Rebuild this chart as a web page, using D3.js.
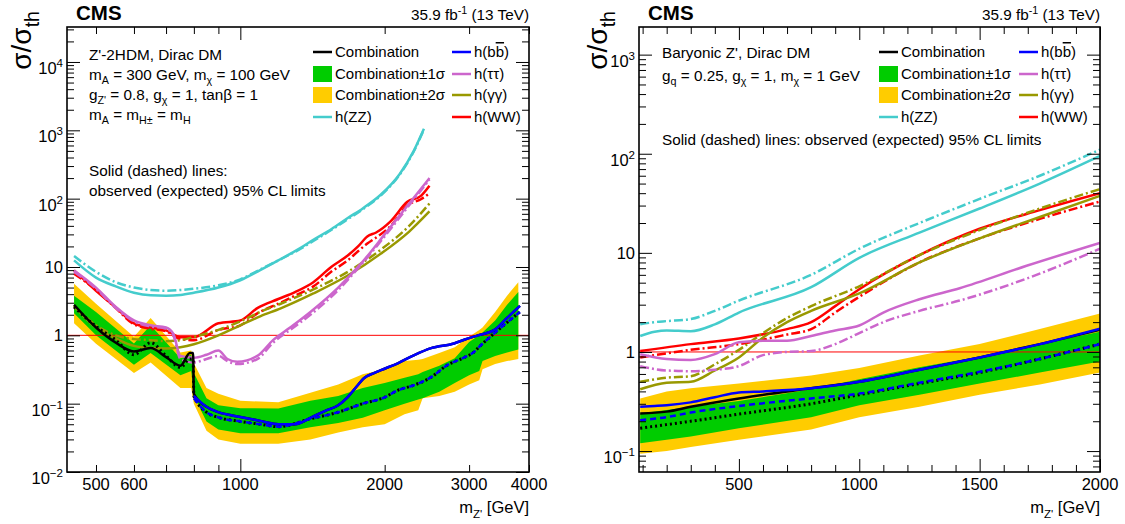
<!DOCTYPE html>
<html><head><meta charset="utf-8">
<script src="https://cdn.jsdelivr.net/npm/d3@7"></script>
<style>body{margin:0;background:#fff}text{font-family:"Liberation Sans",Arial,Helvetica,sans-serif;fill:#000}</style>
</head><body><svg id="c" width="1125" height="524"></svg>
<script>
// ---------------- LEFT PANEL DATA (Z'-2HDM) ----------------
const L_band_m = [450,500,600,650,750,790,800,850,900,1000,1200,1400,1600,1800,2000,2200,2350,2400,2600,2800,3000,3150,3200,3400,3600,3800];
const L_y2u = [5.7,2.9,0.95,1.8,0.56,0.6,0.39,0.17,0.14,0.11,0.105,0.145,0.19,0.27,0.32,0.42,0.44,0.45,0.55,0.67,0.95,1.2,1.3,2.2,3.8,6.0];
const L_g1u = [3.8,2.2,0.76,1.4,0.46,0.52,0.28,0.12,0.095,0.086,0.085,0.11,0.13,0.17,0.2,0.24,0.27,0.29,0.36,0.46,0.8,1.0,1.1,1.65,2.8,4.3];
const L_g1d = [2.1,1.0,0.37,0.55,0.26,0.3,0.13,0.055,0.042,0.037,0.037,0.045,0.052,0.062,0.08,0.1,0.115,0.12,0.15,0.2,0.26,0.3,0.42,0.5,0.56,0.62];
const L_y2d = [1.5,0.75,0.28,0.4,0.17,0.17,0.1,0.04,0.03,0.026,0.026,0.03,0.038,0.045,0.05,0.07,0.08,0.12,0.13,0.15,0.19,0.22,0.32,0.38,0.42,0.45];

const L_comb_obs_m = [450,500,550,600,650,700,750,785,797,800,850,900,1000,1100,1200,1300,1400,1500,1600,1675,1750,1810,1900,1965,2130,2300,2500,2790,2940,3130,3390,3600,3830];
const L_comb_obs = [2.8,1.3,0.78,0.58,0.65,0.48,0.36,0.55,0.55,0.14,0.09,0.075,0.064,0.056,0.05,0.05,0.062,0.078,0.095,0.125,0.18,0.235,0.28,0.31,0.39,0.51,0.65,0.76,0.87,1.0,1.2,1.8,2.7];
const L_comb_exp_m = [450,500,550,600,650,700,750,785,797,800,850,900,1000,1100,1200,1400,1600,1800,2000,2130,2300,2500,2700,2940,3050,3170,3440,3830];
const L_comb_exp = [2.6,1.35,0.85,0.52,0.78,0.5,0.34,0.45,0.45,0.13,0.075,0.063,0.055,0.05,0.046,0.06,0.075,0.1,0.124,0.157,0.186,0.244,0.365,0.48,0.55,0.71,1.18,2.2];

const L_bb_obs_m = [800,850,900,1000,1100,1200,1300,1400,1500,1600,1675,1750,1810,1900,1965,2130,2300,2500,2790,2940,3130,3390,3600,3830];
const L_bb_obs = [0.13,0.09,0.075,0.064,0.056,0.05,0.05,0.062,0.078,0.095,0.125,0.18,0.235,0.28,0.31,0.39,0.51,0.65,0.76,0.87,1.0,1.2,1.8,2.7];
const L_bb_exp_m = [800,850,900,1000,1100,1200,1400,1600,1800,2000,2130,2300,2500,2700,2940,3050,3170,3440,3830];
const L_bb_exp = [0.12,0.075,0.063,0.055,0.05,0.046,0.06,0.075,0.1,0.124,0.157,0.186,0.244,0.365,0.48,0.55,0.71,1.18,2.2];

const L_zz_m = [450,500,550,600,650,700,750,800,900,1000,1100,1200,1336,1420,1550,1675,1800,1965,2150,2300,2415];
const L_zz_obs = [12.5,7.0,5.2,4.2,3.85,3.8,3.9,4.2,5.0,6.4,9,12.5,19,25,36,52,72,115,230,500,1050];
const L_zz_exp = [14.5,8.5,6.0,5.0,4.6,4.5,4.6,4.8,5.4,6.6,9.2,12.5,18.5,24,35,50,70,112,225,490,1030];

const L_ww_m = [450,500,550,600,650,700,750,800,900,1000,1085,1200,1300,1420,1547,1675,1760,1840,1920,2060,2230,2380,2480];
const L_ww_obs = [8.9,4.5,2.56,1.5,1.3,1.18,0.94,0.94,1.5,1.65,2.5,3.4,4.3,6.0,10,14.7,20,28,32,47,90,110,155];
const L_ww_exp = [8.0,4.6,2.5,1.45,1.25,1.15,0.88,0.85,1.2,1.4,2.1,2.9,3.8,5.2,8.5,12.5,17,22,27,40,80,98,120];

const L_gg_m = [450,500,550,600,650,700,750,800,900,1000,1100,1214,1420,1675,1965,2250,2480];
const L_gg_obs = [2.7,1.3,0.9,0.7,0.65,0.64,0.67,0.74,1.0,1.4,1.9,2.48,4.1,7.5,15.7,33,65];
const L_gg_exp = [2.7,1.4,1.0,0.88,0.85,0.82,0.85,0.95,1.2,1.6,2.2,2.9,4.7,8.5,18,40,85];

const L_tt_m = [450,500,550,600,650,700,725,750,800,850,900,940,985,1085,1170,1270,1400,1600,1800,2000,2250,2480];
const L_tt_obs = [8.9,5.0,2.6,1.65,1.4,1.3,1.05,0.5,0.47,0.52,0.6,0.45,0.41,0.5,0.85,1.3,2.2,5.0,12,30,85,200];
const L_tt_exp = [8.5,4.8,2.5,1.6,1.35,1.25,1.0,0.45,0.4,0.45,0.5,0.42,0.38,0.45,0.78,1.2,2.0,4.6,11.5,28,80,190];

// ---------------- RIGHT PANEL DATA (Baryonic Z') ----------------
const R_band_m = [90,200,300,500,800,1000,1250,1500,1750,2000];
const R_y2u = [0.34,0.4,0.43,0.48,0.58,0.69,0.92,1.2,1.7,2.45];
const R_g1u = [0.24,0.26,0.28,0.32,0.42,0.53,0.7,0.9,1.2,1.6];
const R_g1d = [0.12,0.13,0.14,0.17,0.22,0.29,0.37,0.48,0.62,0.8];
const R_y2d = [0.094,0.1,0.11,0.13,0.165,0.22,0.28,0.37,0.47,0.62];

const R_comb_m = [90,200,300,500,800,1000,1250,1500,1750,2000];
const R_comb_obs = [0.24,0.25,0.28,0.34,0.43,0.5,0.66,0.88,1.2,1.68];
const R_comb_exp = [0.17,0.185,0.2,0.236,0.3,0.37,0.48,0.62,0.85,1.2];
const R_bb_exp = [0.205,0.22,0.245,0.285,0.34,0.38,0.49,0.63,0.85,1.2];
const R_bb_obs_m = [90,150,200,300,400,500,600,800,1000,1250,1500,1750,2000];
const R_bb_obs = [0.28,0.285,0.29,0.31,0.35,0.39,0.4,0.43,0.5,0.66,0.88,1.2,1.72];

const R_zz_m = [90,150,200,300,400,500,800,1000,1250,1500,1750,2000];
const R_zz_obs = [1.45,1.6,1.65,1.62,1.9,2.5,4.5,8.9,16,28,50,95];
const R_zz_exp = [1.9,2.0,2.05,2.15,2.6,3.3,6.0,11,20,35,60,110];

const R_ww_m = [90,300,500,700,800,900,1000,1250,1500,1750,2000];
const R_ww_obs = [1.02,1.2,1.37,1.7,2.0,2.9,4.3,9.5,17.5,27,40];
const R_ww_exp = [0.88,1.05,1.2,1.5,1.7,2.5,3.6,8,14,22,33];

const R_gg_m = [90,200,300,400,500,600,700,800,1000,1250,1500,1750,2000];
const R_gg_obs = [0.42,0.49,0.5,0.65,0.88,1.4,2.0,2.6,3.9,8,14,23,37.6];
const R_gg_exp = [0.5,0.55,0.57,0.75,1.05,1.55,2.2,2.9,4.6,9.5,17,28,44];

const R_tt_m = [90,200,300,400,500,600,700,800,900,1000,1100,1250,1417,1695,2000];
const R_tt_obs = [0.95,0.85,0.83,0.95,1.25,1.3,1.3,1.45,1.65,1.85,2.5,3.4,4.4,7.4,12.6];
const R_tt_exp = [0.72,0.65,0.64,0.66,0.72,0.93,1.0,1.02,1.2,1.55,2.0,2.6,3.3,5.5,11];

// ---------------- TICKS & TEXT ----------------
const L_xMajor = [1000];
const L_xMinor = [500,600,700,800,900,2000,3000,4000];
const L_xLabels = [500,600,1000,2000,3000,4000];
const L_yMajor = [1e-2,1e-1,1,10,1e2,1e3,1e4];
const L_yMinor = [0.02,0.03,0.04,0.05,0.06,0.07,0.08,0.09,0.2,0.3,0.4,0.5,0.6,0.7,0.8,0.9,2,3,4,5,6,7,8,9,20,30,40,50,60,70,80,90,200,300,400,500,600,700,800,900,2000,3000,4000,5000,6000,7000,8000,9000,20000,30000];
const R_xMajor = [500,1000,1500,2000];
const R_xMinor = [100,200,300,400,600,700,800,900,1100,1200,1300,1400,1600,1700,1800,1900];
const R_xLabels = [500,1000,1500,2000];
const R_yMajor = [0.1,1,10,100,1000];
const R_yMinor = [0.07,0.08,0.09,0.2,0.3,0.4,0.5,0.6,0.7,0.8,0.9,2,3,4,5,6,7,8,9,20,30,40,50,60,70,80,90,200,300,400,500,600,700,800,900];

const L_text = ["Z'-2HDM, Dirac DM","m_{A} = 300 GeV, m_{χ} = 100 GeV","g_{Z'} = 0.8, g_{χ} = 1, tanβ = 1","m_{A} = m_{H±} = m_{H}"];
const L_note = ["Solid (dashed) lines:","observed (expected) 95% CL limits"];
const R_text = ["Baryonic Z', Dirac DM","g_{q} = 0.25, g_{χ} = 1, m_{χ} = 1 GeV"];
const R_note = ["Solid (dashed) lines: observed (expected) 95% CL limits"];

const C = {yellow:'#ffcc00', green:'#00cc00', zz:'#44cccc', bb:'#0000ff', tt:'#cc66cc', gg:'#999900', ww:'#ff0000', k:'#000000'};
const DASHDOT = '9,3,2,3';

const svg = d3.select('#c');

function rich(sel, str, size) {
  const parts = str.split(/(_\{[^}]*\}|\^\{[^}]*\})/).filter(s => s.length);
  let cur = 0;
  parts.forEach(p => {
    let off = 0, txt = p, small = false;
    if (p.startsWith('_{')) { off = size * 0.28; txt = p.slice(2, -1); small = true; }
    else if (p.startsWith('^{')) { off = -size * 0.42; txt = p.slice(2, -1); small = true; }
    const ts = sel.append('tspan').attr('dy', off - cur).text(txt);
    if (small) ts.attr('font-size', size * 0.7);
    cur = off;
  });
}
function txt(g, x, y, str, size, anchor, weight) {
  const t = g.append('text').attr('x', x).attr('y', y).attr('font-size', size)
    .attr('text-anchor', anchor || 'start');
  if (weight) t.attr('font-weight', weight);
  rich(t, str, size);
  return t;
}

function drawPanel(P) {
  const x = P.x, y = P.y;
  const [x0, x1] = x.range();
  const [yb, yt] = y.range();
  const g = svg.append('g');
  svg.append('clipPath').attr('id', 'clip' + P.id).append('rect')
    .attr('x', x0).attr('y', yt).attr('width', x1 - x0).attr('height', yb - yt);
  const pg = g.append('g').attr('clip-path', `url(#clip${P.id})`);

  const band = (lo, hi) => d3.area().x((d, i) => x(P.bandM[i])).y0((d, i) => y(lo[i])).y1((d, i) => y(hi[i]));
  pg.append('path').datum(P.bandM).attr('d', band(P.y2d, P.y2u)).attr('fill', C.yellow);
  pg.append('path').datum(P.bandM).attr('d', band(P.g1d, P.g1u)).attr('fill', C.green);

  pg.append('line').attr('x1', x0).attr('x2', x1).attr('y1', y(1)).attr('y2', y(1))
    .attr('stroke', '#ff0000').attr('stroke-width', 1);

  P.curves.forEach(c => {
    const line = d3.line().x(d => x(d[0])).y(d => y(d[1])).curve(d3.curveMonotoneX);
    pg.append('path').datum(d3.zip(c.m, c.v)).attr('d', line).attr('fill', 'none')
      .attr('stroke', c.color).attr('stroke-width', c.w || 2.5)
      .attr('stroke-dasharray', c.dash || null).attr('stroke-linejoin', 'round');
  });

  const axes = [
    [d3.axisBottom(x), `translate(0,${yb})`, P.xMajor, P.xMinor],
    [d3.axisTop(x), `translate(0,${yt})`, P.xMajor, P.xMinor],
    [d3.axisLeft(y), `translate(${x0},0)`, P.yMajor, P.yMinor],
    [d3.axisRight(y), `translate(${x1},0)`, P.yMajor, P.yMinor]
  ];
  axes.forEach(([ax, tr, maj, min]) => {
    [[maj, 13], [min, 7]].forEach(([vals, len]) => {
      const a = g.append('g').attr('transform', tr)
        .call(ax.tickValues(vals).tickSize(-len).tickFormat(''));
      a.select('.domain').remove();
      a.selectAll('line').attr('stroke', '#000').attr('stroke-width', 1);
    });
  });
  g.append('rect').attr('x', x0).attr('y', yt).attr('width', x1 - x0).attr('height', yb - yt)
    .attr('fill', 'none').attr('stroke', '#000').attr('stroke-width', 1.6);

  P.xLabels.forEach(v => txt(g, x(v), 490, String(v), 16.5, 'middle'));
  P.yMajor.forEach(v => {
    const e = Math.round(Math.log10(v));
    if (e === 0) txt(g, x0 - 4, y(v) + 6, '1', 16.5, 'end');
    else if (e === 1) txt(g, x0 - 4, y(v) + 6, '10', 16.5, 'end');
    else txt(g, x0 - 4, y(v) + 12, '10^{' + (e < 0 ? '−' + (-e) : e) + '}', 16.5, 'end');
  });

  txt(g, x1, 513, "m_{Z'} [GeV]", 16.5, 'end');
  const yt_ = g.append('text').attr('transform', `translate(${P.ytitleX},11) rotate(-90)`)
    .attr('font-size', 28).attr('text-anchor', 'end');
  rich(yt_, 'σ/σ_{th}', 28);
  txt(g, x0 + 9, 20, 'CMS', 20.5, 'start', 'bold');
  txt(g, x1, 20, '35.9 fb^{-1} (13 TeV)', 15.3, 'end');

  P.text.forEach((s, i) => txt(g, P.textX, P.textY[i], s, 15.3));
  P.note.forEach((s, i) => txt(g, P.textX, P.noteY[i], s, 15.3));

  const rows = [57, 79, 100, 122];
  const L1 = P.leg1, L2 = P.leg2;
  const FS = 15;
  const lineSym = (lx, row, col) => g.append('line').attr('x1', lx).attr('x2', lx + 19)
    .attr('y1', row - 5).attr('y2', row - 5).attr('stroke', col).attr('stroke-width', 2.5);
  const boxSym = (lx, row, col) => g.append('rect').attr('x', lx).attr('y', row - 13)
    .attr('width', 19).attr('height', 16).attr('fill', col);
  lineSym(L1, rows[0], C.k); txt(g, L1 + 22, rows[0], 'Combination', FS);
  boxSym(L1, rows[1], C.green); txt(g, L1 + 22, rows[1], 'Combination±1σ', FS);
  boxSym(L1, rows[2], C.yellow); txt(g, L1 + 22, rows[2], 'Combination±2σ', FS);
  lineSym(L1, rows[3], C.zz); txt(g, L1 + 22, rows[3], 'h(ZZ)', FS);
  lineSym(L2, rows[0], C.bb);
  const tb = g.append('text').attr('x', L2 + 22).attr('y', rows[0]).attr('font-size', FS);
  tb.append('tspan').text('h(b');
  tb.append('tspan').attr('text-decoration', 'overline').style('text-decoration', 'overline').text('b');
  tb.append('tspan').text(')');
  lineSym(L2, rows[1], C.tt); txt(g, L2 + 22, rows[1], 'h(ττ)', FS);
  lineSym(L2, rows[2], C.gg); txt(g, L2 + 22, rows[2], 'h(γγ)', FS);
  lineSym(L2, rows[3], C.ww); txt(g, L2 + 22, rows[3], 'h(WW)', FS);
}

const LX = d3.scaleLog().domain([435, 4000]).range([67, 529]);
const LY = d3.scaleLog().domain([1e-2, 3.25e4]).range([472, 27]);
const RX = d3.scaleLinear().domain([85, 2000]).range([639, 1100]);
const RY = d3.scaleLog().domain([0.0615, 1900]).range([472, 27]);

drawPanel({
  id: 'L', x: LX, y: LY, bandM: L_band_m, y2u: L_y2u, g1u: L_g1u, g1d: L_g1d, y2d: L_y2d,
  curves: [
    {m: L_zz_m, v: L_zz_exp, color: C.zz, dash: DASHDOT},
    {m: L_zz_m, v: L_zz_obs, color: C.zz},
    {m: L_ww_m, v: L_ww_exp, color: C.ww, dash: DASHDOT},
    {m: L_ww_m, v: L_ww_obs, color: C.ww},
    {m: L_gg_m, v: L_gg_exp, color: C.gg, dash: DASHDOT},
    {m: L_gg_m, v: L_gg_obs, color: C.gg},
    {m: L_tt_m, v: L_tt_exp, color: C.tt, dash: DASHDOT},
    {m: L_tt_m, v: L_tt_obs, color: C.tt},
    {m: L_comb_exp_m, v: L_comb_exp, color: C.k, dash: '2,3', w: 3},
    {m: L_comb_obs_m, v: L_comb_obs, color: C.k},
    {m: L_bb_exp_m, v: L_bb_exp, color: C.bb, dash: '6,4'},
    {m: L_bb_obs_m, v: L_bb_obs, color: C.bb}
  ],
  xMajor: L_xMajor, xMinor: L_xMinor, xLabels: L_xLabels, yMajor: L_yMajor, yMinor: L_yMinor,
  ytitleX: 31, text: L_text, textX: 89, textY: [60, 80, 100, 120], note: L_note, noteY: [176, 196],
  leg1: 313, leg2: 452
});

drawPanel({
  id: 'R', x: RX, y: RY, bandM: R_band_m, y2u: R_y2u, g1u: R_g1u, g1d: R_g1d, y2d: R_y2d,
  curves: [
    {m: R_zz_m, v: R_zz_exp, color: C.zz, dash: DASHDOT},
    {m: R_zz_m, v: R_zz_obs, color: C.zz},
    {m: R_ww_m, v: R_ww_exp, color: C.ww, dash: DASHDOT},
    {m: R_ww_m, v: R_ww_obs, color: C.ww},
    {m: R_gg_m, v: R_gg_exp, color: C.gg, dash: DASHDOT},
    {m: R_gg_m, v: R_gg_obs, color: C.gg},
    {m: R_tt_m, v: R_tt_exp, color: C.tt, dash: DASHDOT},
    {m: R_tt_m, v: R_tt_obs, color: C.tt},
    {m: R_comb_m, v: R_comb_exp, color: C.k, dash: '2,3', w: 3},
    {m: R_comb_m, v: R_comb_obs, color: C.k},
    {m: R_comb_m, v: R_bb_exp, color: C.bb, dash: '6,4'},
    {m: R_bb_obs_m, v: R_bb_obs, color: C.bb}
  ],
  xMajor: R_xMajor, xMinor: R_xMinor, xLabels: R_xLabels, yMajor: R_yMajor, yMinor: R_yMinor,
  ytitleX: 607, text: R_text, textX: 662, textY: [58, 81], note: R_note, noteY: [145],
  leg1: 879, leg2: 1019
});
</script></body></html>
